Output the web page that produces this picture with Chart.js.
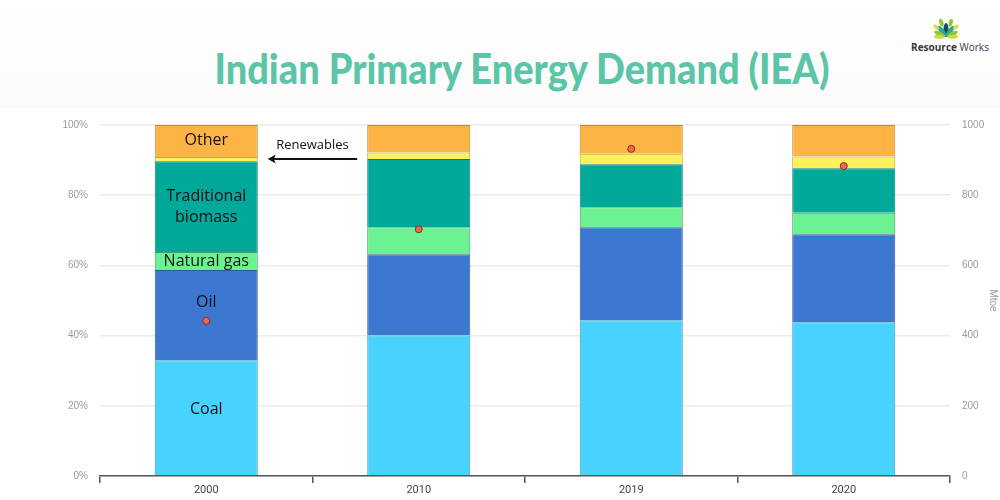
<!DOCTYPE html>
<html>
<head>
<meta charset="utf-8">
<script src="https://cdn.jsdelivr.net/npm/chart.js@4.4.1/dist/chart.umd.min.js"></script>
<style>
html,body{margin:0;padding:0;background:#fff;}
#wrap{position:relative;width:1000px;height:500px;overflow:hidden;background:#fff;}
#hdr{position:absolute;left:0;top:0;width:1000px;height:108px;background:linear-gradient(#ffffff,#fbfbfb);}
#title{position:absolute;left:522px;top:43px;white-space:nowrap;font-family:Lato,"Open Sans",sans-serif;font-weight:900;font-size:42px;line-height:50px;color:#5cc5a7;transform-origin:center center;}
#logo{position:absolute;left:905px;top:14px;width:90px;height:44px;}
#logoText{position:absolute;left:0;top:26px;width:90px;text-align:center;font-family:"Open Sans",sans-serif;font-size:10px;color:#3a3a3a;white-space:nowrap;}
#logoText b{font-weight:700;}
#c{position:absolute;left:0;top:0;}
</style>
</head>
<body>
<div id="wrap">
  <div id="hdr"></div>
  <div id="title">Indian Primary Energy Demand (IEA)</div>
  <div id="logo">
    <svg width="90" height="26" viewBox="0 0 90 26" style="position:absolute;left:0;top:0">
      <g transform="translate(41,23)">
        <ellipse cx="0" cy="-7" rx="2.6" ry="7" fill="#1d4b5c"/>
        <ellipse cx="0" cy="-7" rx="2.4" ry="6.5" fill="#2aa89a" transform="rotate(-35)"/>
        <ellipse cx="0" cy="-7" rx="2.4" ry="6.5" fill="#2aa89a" transform="rotate(35)"/>
        <ellipse cx="0" cy="-7" rx="2.2" ry="6" fill="#8cc63f" transform="rotate(-65)"/>
        <ellipse cx="0" cy="-7" rx="2.2" ry="6" fill="#8cc63f" transform="rotate(65)"/>
        <ellipse cx="0" cy="-7" rx="2" ry="5" fill="#c9dc3c" transform="rotate(-88)"/>
        <ellipse cx="0" cy="-7" rx="2" ry="5" fill="#c9dc3c" transform="rotate(88)"/>
        <ellipse cx="0" cy="-15" rx="2" ry="4" fill="#8cc63f" transform="rotate(-18)"/>
        <ellipse cx="0" cy="-15" rx="2" ry="4" fill="#8cc63f" transform="rotate(18)"/>
        <ellipse cx="0" cy="-14" rx="1.8" ry="3.5" fill="#d7e23a" transform="rotate(-45)"/>
        <ellipse cx="0" cy="-14" rx="1.8" ry="3.5" fill="#d7e23a" transform="rotate(45)"/>
      </g>
    </svg>
    <div id="logoText"><b>Resource</b> Works</div>
  </div>
  <canvas id="c" width="1000" height="500"></canvas>
</div>
<script>
// ---- data ----
const categories = ['2000', '2010', '2019', '2020'];
const coal       = [33.0, 40.0, 44.4, 43.8];
const oil        = [25.7, 23.2, 26.5, 25.1];
const naturalGas = [5.1, 7.7, 5.7, 6.1];
const biomass    = [25.9, 19.4, 12.2, 12.7];
const renewables = [1.2, 1.9, 3.0, 3.3];
const other      = [9.1, 7.8, 8.2, 9.0];
const totalMtoe  = [442, 703, 932, 883];
const pctTicks   = [0, 20, 40, 60, 80, 100];
const mtoeTicks  = [0, 200, 400, 600, 800, 1000];

// fit title width
(function(){
  const t = document.getElementById('title');
  const w = t.getBoundingClientRect().width;
  const target = 615;
  t.style.transform = 'translateX(-50%) scaleX(' + (target / w) + ')';
})();

const segLabels = [
  {ds: 0, lines: ['Coal'], dy: -8},
  {ds: 1, lines: ['Oil'], dy: -13},
  {ds: 2, lines: ['Natural gas'], dy: 0},
  {ds: 3, lines: ['Traditional', 'biomass'], dy: 0},
  {ds: 5, lines: ['Other'], dy: -1}
];

const labelPlugin = {
  id: 'segLabels',
  afterDatasetsDraw(chart) {
    const ctx = chart.ctx;
    ctx.save();
    ctx.fillStyle = '#111';
    ctx.font = '16px "Open Sans", sans-serif';
    ctx.textAlign = 'center';
    ctx.textBaseline = 'middle';
    segLabels.forEach(l => {
      const el = chart.getDatasetMeta(l.ds).data[0];
      const cy = (el.y + el.base) / 2 + l.dy;
      const lh = 21;
      l.lines.forEach((txt, i) => {
        ctx.fillText(txt, el.x, cy + (i - (l.lines.length - 1) / 2) * lh);
      });
    });
    // Renewables annotation
    const r0 = chart.getDatasetMeta(4).data[0];
    const r1 = chart.getDatasetMeta(4).data[1];
    const ay = (r0.y + r0.base) / 2;
    const x1 = r0.x + r0.width / 2 + 10;
    const x2 = r1.x - r1.width / 2 - 10;
    ctx.strokeStyle = '#111';
    ctx.lineWidth = 2;
    ctx.beginPath();
    ctx.moveTo(x2, ay);
    ctx.lineTo(x1 + 2, ay);
    ctx.stroke();
    ctx.fillStyle = '#111';
    ctx.beginPath();
    ctx.moveTo(x1, ay);
    ctx.lineTo(x1 + 8, ay - 4.5);
    ctx.lineTo(x1 + 6, ay);
    ctx.lineTo(x1 + 8, ay + 4.5);
    ctx.closePath();
    ctx.fill();
    ctx.font = '13px "Open Sans", sans-serif';
    ctx.fillText('Renewables', (x1 + x2) / 2, ay - 14);
    ctx.restore();
  }
};

const mk = (label, data, bg, bd) => ({
  type: 'bar', label, data, backgroundColor: bg, borderColor: bd, borderWidth: 1,
  yAxisID: 'yPct', stack: 's', order: 1,
  categoryPercentage: 1, barPercentage: 0.485
});

new Chart(document.getElementById('c'), {
  data: {
    labels: categories,
    datasets: [
      mk('Coal', coal, '#48d3fe', '#3a9cc0'),
      mk('Oil', oil, '#3c78d2', '#2b5a9c'),
      mk('Natural gas', naturalGas, '#6cf293', '#3f9a66'),
      mk('Traditional biomass', biomass, '#01a99b', '#0a7d72'),
      mk('Renewables', renewables, '#fff159', '#b8a83a'),
      mk('Other', other, '#fdb445', '#b98a3e'),
      {
        type: 'line', label: 'Total', data: totalMtoe, yAxisID: 'yMt', order: 0,
        showLine: false, pointRadius: 3.5, pointBackgroundColor: '#f26a45',
        pointBorderColor: '#7a3325', pointBorderWidth: 1
      }
    ]
  },
  options: {
    responsive: false,
    animation: false,
    layout: {padding: {top: 125, left: 0, right: 0, bottom: 0}},
    plugins: {legend: {display: false}, tooltip: {enabled: false}, title: {display: false}},
    scales: {
      x: {
        stacked: true, offset: true,
        grid: {display: true, drawOnChartArea: false, drawTicks: true, tickLength: 7, color: '#555', offset: true, lineWidth: 1.5},
        border: {display: true, color: '#555', width: 1.5},
        ticks: {color: '#444', font: {family: '"Liberation Sans Narrow", "Roboto", sans-serif', size: 11}, padding: 1},
        afterFit: s => { s.height = 24; }
      },
      yPct: {
        position: 'left', stacked: true, min: 0, max: 100,
        afterBuildTicks: s => { s.ticks = pctTicks.map(v => ({value: v})); },
        ticks: {callback: v => v + '%', color: '#9a9a9a', font: {family: '"Liberation Sans", Arial, sans-serif', size: 10}, padding: 12},
        grid: {color: '#ebebeb', lineWidth: 1.5, drawTicks: false},
        border: {display: false},
        afterFit: s => { s.width = 100; }
      },
      yMt: {
        position: 'right', min: 0, max: 1000,
        afterBuildTicks: s => { s.ticks = mtoeTicks.map(v => ({value: v})); },
        ticks: {callback: v => String(v), color: '#9a9a9a', font: {family: '"Liberation Sans", Arial, sans-serif', size: 10}, padding: 12},
        grid: {display: false, drawTicks: false},
        border: {display: false},
        title: {display: true, text: 'Mtoe', color: '#9a9a9a', font: {family: '"Liberation Sans", Arial, sans-serif', size: 10}, padding: {top: 1, bottom: 0}},
        afterFit: s => { s.width = 50; }
      }
    }
  },
  plugins: [labelPlugin]
});
</script>
</body>
</html>
